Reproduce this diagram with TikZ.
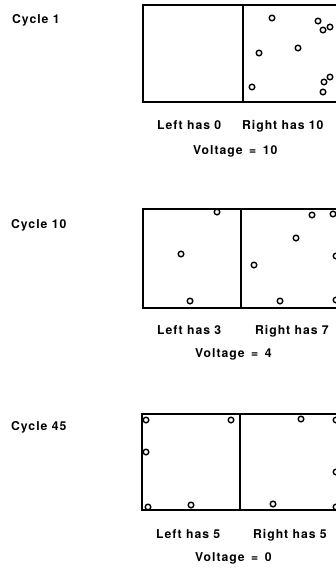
\documentclass[tikz,border=0pt]{standalone}
\usepackage{fontspec}
\setmainfont{TeX Gyre Heros}
\tikzset{
  lbl/.style={anchor=base west, inner sep=0pt, font=\addfontfeatures{LetterSpace=8}\fontsize{12.2}{14}\selectfont\bfseries},
  wall/.style={line width=1.6pt},
  ion/.style={line width=1.4pt},
}
\newcommand{\eqsign}{\hspace{6.5pt}=\hspace{6.5pt}}
\begin{document}
\begin{tikzpicture}[x=1pt,y=-1pt]
\useasboundingbox (0,0) rectangle (336,568);
\fill[white] (0,0) rectangle (336,568);
\clip (0,0) rectangle (336,568);
% Cycle 1
\node[lbl] (c1) at (12,23.3) {Cycle 1};
\draw[wall] (143,5) rectangle (343,102);
\draw[wall] (243,5) -- (243,102);
\foreach \p in {(272,18),(318,21),(323,30),(330,27),(298,48),(259,53),(330,77),(324,82),(323,92),(252,87)}
  \draw[ion] \p circle[radius=2.8];
\node[lbl] (l1) at (157,129) {Left has 0};
\node[lbl] (r1) at (242,129) {Right has 10};
\node[lbl] (v1) at (193,154.3) {Voltage\eqsign10};
% Cycle 10
\node[lbl] (c10) at (11,228.3) {Cycle 10};
\draw[wall] (143,209) rectangle (343,308);
\draw[wall] (241,209) -- (241,308);
\foreach \p in {(217,212),(181,254),(190,301),(312,215),(333,214),(296,238),(254,265),(336,256),(280,301),(336,300)}
  \draw[ion] \p circle[radius=2.8];
\node[lbl] (l10) at (157,334) {Left has 3};
\node[lbl] (r10) at (255,334) {Right has 7};
\node[lbl] (v10) at (195,357.7) {Voltage\eqsign4};
% Cycle 45
\node[lbl] (c45) at (11,430.5) {Cycle 45};
\draw[wall] (142,414) rectangle (343,510);
\draw[wall] (240,414) -- (240,510);
\foreach \p in {(146,420),(231,420),(146,452),(148,507),(191,505),(301,419),(336,420),(336,472),(273,504),(336,507)}
  \draw[ion] \p circle[radius=2.8];
\node[lbl] (l45) at (156,538.3) {Left has 5};
\node[lbl] (r45) at (253,538.3) {Right has 5};
\node[lbl] (v45) at (195,561.7) {Voltage\eqsign0};
\end{tikzpicture}
\end{document}
